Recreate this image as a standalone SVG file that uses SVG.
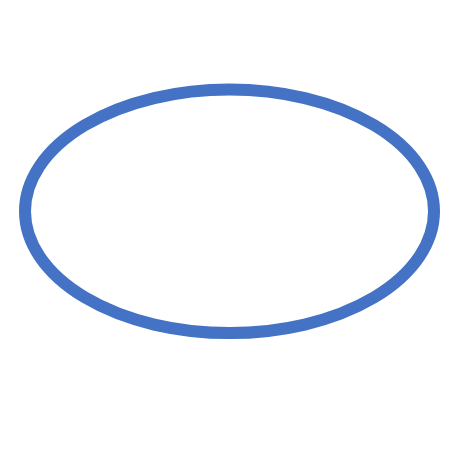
<svg xmlns="http://www.w3.org/2000/svg" width="460" height="460" viewBox="0 0 460 460">
<style>.shape{fill:none;stroke:#4472C4;stroke-width:12}</style>
<rect width="460" height="460" fill="#ffffff"/>
<g id="node-ellipse">
<ellipse class="shape" cx="229.5" cy="211.3" rx="204.5" ry="121.8"/>
</g>
<g id="connectors"></g>
</svg>
